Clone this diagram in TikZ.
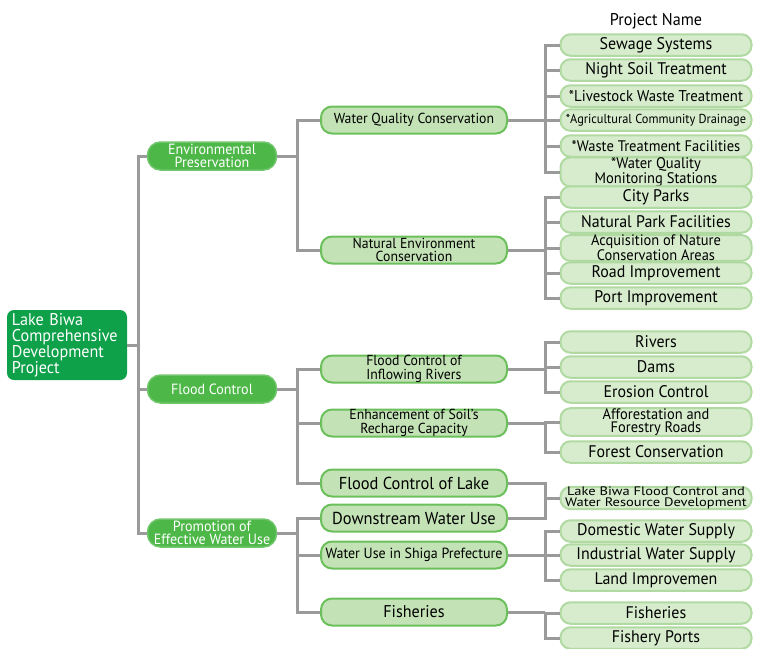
\documentclass[tikz,border=0pt]{standalone}
\usepackage{fontspec}
\setmainfont{PT Sans}[FakeStretch=0.95]
\newfontfamily\widefont{PT Sans}[FakeStretch=1.18]
\usetikzlibrary{positioning}

\definecolor{rootgreen}{HTML}{0FA04A}
\definecolor{topgreen}{HTML}{4DB848}
\definecolor{midfill}{HTML}{C3E2B5}
\definecolor{midline}{HTML}{6CC05C}
\definecolor{leaffill}{HTML}{D6ECCD}
\definecolor{leafline}{HTML}{B0DAA2}
\definecolor{wire}{HTML}{9A9A9A}

\begin{document}
\begin{tikzpicture}[x=1pt, y=-1pt,
  root/.style={rectangle, rounded corners=7pt, fill=rootgreen, text=white,
    minimum width=120pt, minimum height=70pt, inner sep=0pt,
    text width=110pt, align=left, font=\fontsize{17}{16}\selectfont},
  area/.style={rectangle, rounded corners=13pt, draw=topgreen!80, line width=1.5pt,
    fill=topgreen, text=white, minimum width=129pt, minimum height=28pt,
    inner sep=0pt, align=center, font=\fontsize{14.8}{13.5}\selectfont},
  measure/.style={rectangle, rounded corners=11pt, draw=midline, line width=2pt,
    fill=midfill, minimum width=186pt, minimum height=27pt, inner sep=0pt,
    align=center, font=\fontsize{14.5}{13.3}\selectfont},
  proj/.style={rectangle, rounded corners=10pt, draw=leafline, line width=2pt,
    fill=leaffill, minimum width=191pt, minimum height=21.5pt, inner sep=0pt,
    align=center, font=\fontsize{16.8}{15}\selectfont},
  link/.style={draw=wire, line width=3pt}
]
  \useasboundingbox (0,0) rectangle (760,648);

  % root and main areas
  \node[root] (lb) at (67,345) {Lake Biwa\\Comprehensive\\Development\\Project};
  \node[area] (ep) at (212,156) {Environmental\\Preservation};
  \node[area] (fc) at (212,389) {Flood Control};
  \node[area] (pw) at (212,533) {Promotion of\\Effective Water Use};

  % measures
  \node[measure] (wqc) at (414,120) {Water Quality Conservation};
  \node[measure] (nec) at (414,250) {Natural Environment\\Conservation};
  \node[measure, align=left] (fir) at (414,369) {Flood Control of\\Inflowing Rivers};
  \node[measure] (esr) at (414,423) {Enhancement of Soil's\\Recharge Capacity};
  \node[measure, font=\fontsize{17.3}{15}\selectfont] (fcl) at (414,483) {Flood Control of Lake};
  \node[measure, font=\fontsize{17.3}{15}\selectfont] (dwu) at (414,518) {Downstream Water Use};
  \node[measure, font=\fontsize{14.7}{13}\selectfont] (wus) at (414,555) {Water Use in Shiga Prefecture};
  \node[measure, font=\fontsize{17}{15}\selectfont] (fsh) at (414,612) {Fisheries};

  % projects
  \node[proj] (ss)  at (656,45)  {Sewage Systems};
  \node[above=1pt of ss, font=\fontsize{17}{15}\selectfont] (pn) {Project Name};
  \node[proj] (nst) at (656,70)  {Night Soil Treatment};
  \node[proj, font=\fontsize{15.6}{14}\selectfont] (lwt) at (656,96) {*Livestock Waste Treatment};
  \node[proj, font=\fontsize{13}{12}\selectfont] (acd) at (656,120) {*Agricultural Community Drainage};
  \node[proj, font=\fontsize{15.3}{14}\selectfont] (wtf) at (656,146) {*Waste Treatment Facilities};
  \node[proj, font=\fontsize{15.3}{13.8}\selectfont] (wqm) at (656,172) {*Water Quality\\Monitoring Stations};
  \node[proj] (cp)  at (656,197) {City Parks};
  \node[proj] (npf) at (656,222) {Natural Park Facilities};
  \node[proj, font=\fontsize{15.2}{13.7}\selectfont] (anc) at (656,248) {Acquisition of Nature\\Conservation Areas};
  \node[proj] (ri)  at (656,273) {Road Improvement};
  \node[proj] (pi)  at (656,298) {Port Improvement};
  \node[proj] (riv) at (656,342) {Rivers};
  \node[proj] (dam) at (656,367) {Dams};
  \node[proj] (ec)  at (656,392) {Erosion Control};
  \node[proj, font=\fontsize{15.2}{13.7}\selectfont] (afr) at (656,422) {Afforestation and\\Forestry Roads};
  \node[proj] (fcn) at (656,452) {Forest Conservation};
  \node[proj, font=\widefont\fontsize{12.3}{11.2}\selectfont] (lbf) at (656,498) {Lake Biwa Flood Control and\\Water Resource Development};
  \node[proj] (dws) at (656,531) {Domestic Water Supply};
  \node[proj] (iws) at (656,555) {Industrial Water Supply};
  \node[proj] (li)  at (656,580) {Land Improvemen};
  \node[proj] (fis) at (656,613) {Fisheries};
  \node[proj] (fp)  at (656,638) {Fishery Ports};

  \coordinate (t1) at (138,0);
  \coordinate (t2) at (297,0);
  \coordinate (t3) at (545,0);

  % trunk
  \draw[link] (lb.east) -- (lb.east -| t1);
  \draw[link] (ep.west) -- (ep.west -| t1) -- (pw.west -| t1) -- (pw.west);
  \draw[link] (fc.west -| t1) -- (fc.west);

  % areas to measures
  \draw[link] (ep.east) -- (ep.east -| t2);
  \draw[link] (wqc.west) -- (wqc.west -| t2) -- (nec.west -| t2) -- (nec.west);
  \draw[link] (fc.east) -- (fc.east -| t2);
  \draw[link] (fir.west) -- (fir.west -| t2) -- (fcl.west -| t2) -- (fcl.west);
  \draw[link] (esr.west -| t2) -- (esr.west);
  \draw[link] (pw.east) -- (pw.east -| t2);
  \draw[link] (dwu.west) -- (dwu.west -| t2) -- (fsh.west -| t2) -- (fsh.west);
  \draw[link] (wus.west -| t2) -- (wus.west);

  % measures to projects
  \draw[link] (wqc.east) -- (wqc.east -| t3);
  \draw[link] (ss.west) -- (ss.west -| t3) -- (wqm.west -| t3) -- (wqm.west);
  \foreach \p in {nst,lwt,acd,wtf}
    \draw[link] (\p.west -| t3) -- (\p.west);
  \draw[link] (nec.east) -- (nec.east -| t3);
  \draw[link] (cp.west) -- (cp.west -| t3) -- (pi.west -| t3) -- (pi.west);
  \foreach \p in {npf,anc,ri}
    \draw[link] (\p.west -| t3) -- (\p.west);
  \draw[link] (fir.east) -- (fir.east -| t3);
  \draw[link] (riv.west) -- (riv.west -| t3) -- (ec.west -| t3) -- (ec.west);
  \draw[link] (dam.west -| t3) -- (dam.west);
  \draw[link] (esr.east) -- (esr.east -| t3);
  \draw[link] (afr.west) -- (afr.west -| t3) -- (fcn.west -| t3) -- (fcn.west);
  \draw[link] (fcl.east) -- (fcl.east -| t3) -- (dwu.east -| t3) -- (dwu.east);
  \draw[link] (lbf.west -| t3) -- (lbf.west);
  \draw[link] (wus.east) -- (wus.east -| t3);
  \draw[link] (dws.west) -- (dws.west -| t3) -- (li.west -| t3) -- (li.west);
  \draw[link] (iws.west -| t3) -- (iws.west);
  \draw[link] (fsh.east) -- (fsh.east -| t3);
  \draw[link] (fis.west) -- (fis.west -| t3) -- (fp.west -| t3) -- (fp.west);
\end{tikzpicture}
\end{document}
